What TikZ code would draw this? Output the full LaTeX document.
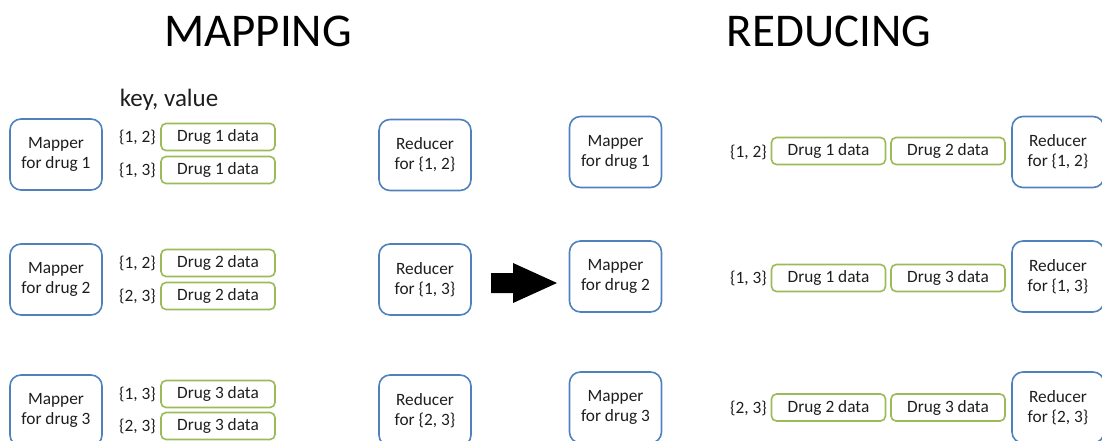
\documentclass[tikz,border=0pt]{standalone}
\usepackage{fontspec}
\setmainfont{Carlito}
\definecolor{boxblue}{RGB}{79,129,189}
\definecolor{boxgreen}{RGB}{155,187,89}
\definecolor{ink}{RGB}{30,30,30}
\begin{document}
\begin{tikzpicture}[x=1pt,y=-1pt,
  worker/.style={draw=boxblue, line width=1.6pt, rounded corners=11pt,
    minimum width=92pt, minimum height=71pt, inner sep=0pt, align=center,
    font=\fontsize{17.3}{20}\selectfont, text=ink},
  datum/.style={draw=boxgreen, line width=1.6pt, rounded corners=5pt,
    minimum width=114pt, minimum height=27pt, inner sep=0pt,
    font=\fontsize{17.3}{20}\selectfont, text=ink},
  keylbl/.style={anchor=east, inner sep=0pt, font=\fontsize{17.3}{20}\selectfont, text=ink},
  title/.style={font=\fontsize{47}{52}\selectfont, text=black}]
\useasboundingbox (0,0) rectangle (1102,441);
\begin{scope}
\clip (0,0) rectangle (1102,441);

% titles
\node[title] (tmap) at (258,31) {MAPPING};
\node[title] (tred) at (829,31) {REDUCING};
\node[font=\fontsize{25}{28}\selectfont, text=ink] (kv) at (169,100) {key, value};

% mapping phase: mappers
\node[worker] (m1) at (56,154.5) {Mapper\\for drug 1};
\node[worker] (m2) at (56,279.5) {Mapper\\for drug 2};
\node[worker] (m3) at (56,410.5) {Mapper\\for drug 3};

% mapping phase: emitted pairs
\node[datum] (d11) at (218,137) {Drug 1 data};
\node[datum] (d12) at (218,170) {Drug 1 data};
\node[datum] (d21) at (218,263) {Drug 2 data};
\node[datum] (d22) at (218,296) {Drug 2 data};
\node[datum] (d31) at (218,394) {Drug 3 data};
\node[datum] (d32) at (218,426) {Drug 3 data};
\node[keylbl] (k11) at (156,137) {\{1, 2\}};
\node[keylbl] (k12) at (156,170) {\{1, 3\}};
\node[keylbl] (k21) at (156,263) {\{1, 2\}};
\node[keylbl] (k22) at (156,296) {\{2, 3\}};
\node[keylbl] (k31) at (156,394) {\{1, 3\}};
\node[keylbl] (k32) at (156,426) {\{2, 3\}};

% mapping phase: reducers
\node[worker] (r1) at (425,155) {Reducer\\for \{1, 2\}};
\node[worker] (r2) at (425,279.5) {Reducer\\for \{1, 3\}};
\node[worker] (r3) at (425,410.5) {Reducer\\for \{2, 3\}};

% transition arrow
\fill[black] (491,273) -- (513,273) -- (513,263) -- (557,283)
  -- (513,303) -- (513,293) -- (491,293) -- cycle;

% reducing phase: mappers
\node[worker] (n1) at (615.5,152) {Mapper\\for drug 1};
\node[worker] (n2) at (615.5,276.5) {Mapper\\for drug 2};
\node[worker] (n3) at (615.5,407.5) {Mapper\\for drug 3};

% reducing phase: grouped values
\node[datum] (g1a) at (828.5,151) {Drug 1 data};
\node[datum] (g1b) at (948,151) {Drug 2 data};
\node[datum] (g2a) at (828.5,278) {Drug 1 data};
\node[datum] (g2b) at (948,278) {Drug 3 data};
\node[datum] (g3a) at (828.5,407.5) {Drug 2 data};
\node[datum] (g3b) at (948,407.5) {Drug 3 data};
\node[keylbl] (q1) at (767,152) {\{1, 2\}};
\node[keylbl] (q2) at (767,278) {\{1, 3\}};
\node[keylbl] (q3) at (767,408) {\{2, 3\}};

% reducing phase: reducers
\node[worker] (s1) at (1058,152) {Reducer\\for \{1, 2\}};
\node[worker] (s2) at (1058,276.5) {Reducer\\for \{1, 3\}};
\node[worker] (s3) at (1058,407.5) {Reducer\\for \{2, 3\}};
\end{scope}
\end{tikzpicture}
\end{document}
